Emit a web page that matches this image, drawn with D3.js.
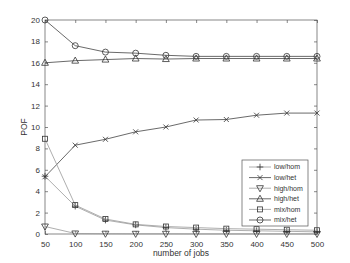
<!DOCTYPE html>
<meta charset="utf-8">
<style>
body { margin: 0; background: #fff; }
.tick text { font: 8px "Liberation Sans", Arial, sans-serif; fill: #333; }
.lbl { font: 8.5px "Liberation Sans", Arial, sans-serif; fill: #333; }
.leg text { font: 7px "Liberation Sans", Arial, sans-serif; fill: #333; }
</style>
<svg class="canvas"></svg>
<script src="https://cdn.jsdelivr.net/npm/d3@7"></script>
<script>

var jobs = [50, 100, 150, 200, 250, 300, 350, 400, 450, 500];
var lowHom  = [5.4, 2.6, 1.3, 0.85, 0.6, 0.45, 0.35, 0.3, 0.25, 0.2];
var lowHet  = [5.35, 8.3, 8.85, 9.55, 10.0, 10.65, 10.7, 11.1, 11.3, 11.3];
var highHom = [0.7, 0.05, 0.03, 0.02, 0.02, 0.01, 0.01, 0.01, 0.01, 0.01];
var highHet = [16.0, 16.2, 16.3, 16.4, 16.35, 16.4, 16.4, 16.4, 16.4, 16.4];
var mixHom  = [8.9, 2.7, 1.4, 0.9, 0.7, 0.6, 0.5, 0.45, 0.4, 0.35];
var mixHet  = [20.0, 17.6, 17.0, 16.9, 16.7, 16.6, 16.6, 16.6, 16.6, 16.6];
var xTicks = [50, 100, 150, 200, 250, 300, 350, 400, 450, 500];
var yTicks = [0, 2, 4, 6, 8, 10, 12, 14, 16, 18, 20];

var series = [
	{ name: "low/hom",  values: lowHom,  marker: "plus",   line: "#999" },
	{ name: "low/het",  values: lowHet,  marker: "cross",  line: "#444" },
	{ name: "high/hom", values: highHom, marker: "tdown",  line: "#999" },
	{ name: "high/het", values: highHet, marker: "tup",    line: "#444" },
	{ name: "mix/hom",  values: mixHom,  marker: "square", line: "#999" },
	{ name: "mix/het",  values: mixHet,  marker: "circle", line: "#444" }
];

var width = 350, height = 263;
var L = 45, R = 317, T = 20, B = 234;

var svg = d3.select(".canvas").attr("width", width).attr("height", height);

var x = d3.scaleLinear().domain([50, 500]).range([L, R]);
var y = d3.scaleLinear().domain([0, 20]).range([B, T]);

svg.append("rect").attr("x", L).attr("y", T).attr("width", R - L).attr("height", B - T)
	.attr("fill", "none").attr("stroke", "#555").attr("stroke-width", 0.7);

function styleAxis(g) {
	g.select(".domain").remove();
	g.selectAll(".tick line").attr("stroke", "#555").attr("stroke-width", 0.7);
}

svg.append("g").attr("transform", "translate(0," + B + ")")
	.call(d3.axisBottom(x).tickValues(xTicks).tickSize(-3).tickPadding(7).tickFormat(d3.format("d")))
	.call(styleAxis);
svg.append("g").attr("transform", "translate(0," + T + ")")
	.call(d3.axisTop(x).tickValues(xTicks).tickSize(-3).tickFormat(""))
	.call(styleAxis);
svg.append("g").attr("transform", "translate(" + L + ",0)")
	.call(d3.axisLeft(y).tickValues(yTicks).tickSize(-3).tickPadding(5).tickFormat(d3.format("d")))
	.call(styleAxis);
svg.append("g").attr("transform", "translate(" + R + ",0)")
	.call(d3.axisRight(y).tickValues(yTicks).tickSize(-3).tickFormat(""))
	.call(styleAxis);

svg.append("text").attr("class", "lbl").attr("x", (L + R) / 2).attr("y", 256)
	.attr("text-anchor", "middle").text("number of jobs");
svg.append("text").attr("class", "lbl").attr("transform", "translate(27," + (T + B) / 2 + ") rotate(-90)")
	.attr("text-anchor", "middle").text("POF");

function drawMarker(g, type) {
	var st = { fill: "none", stroke: "#333", "stroke-width": 0.8 };
	var m;
	if (type === "circle") m = g.append("circle").attr("r", 3);
	else if (type === "square") m = g.append("rect").attr("x", -2.5).attr("y", -2.5).attr("width", 5).attr("height", 5);
	else if (type === "tup") m = g.append("path").attr("d", "M0,-3.6L3.4,2.5L-3.4,2.5Z");
	else if (type === "tdown") m = g.append("path").attr("d", "M0,3.6L3.4,-2.5L-3.4,-2.5Z");
	else if (type === "plus") m = g.append("path").attr("d", "M-3.3,0H3.3M0,-3.3V3.3");
	else m = g.append("path").attr("d", "M-2.5,-2.5L2.5,2.5M-2.5,2.5L2.5,-2.5");
	for (var k in st) m.attr(k, st[k]);
}

var line = d3.line().x(function(d, i) { return x(jobs[i]); }).y(function(d) { return y(d); });

series.forEach(function(s) {
	svg.append("path").attr("d", line(s.values)).attr("fill", "none")
		.attr("stroke", s.line).attr("stroke-width", 0.8);
	s.values.forEach(function(v, i) {
		var g = svg.append("g").attr("transform", "translate(" + x(jobs[i]) + "," + y(v) + ")");
		drawMarker(g, s.marker);
	});
});

// legend
var leg = svg.append("g").attr("class", "leg").attr("transform", "translate(242,160)");
leg.append("rect").attr("width", 66).attr("height", 66).attr("fill", "#fff")
	.attr("stroke", "#555").attr("stroke-width", 0.7);
series.forEach(function(s, i) {
	var yy = 7 + i * 10.6;
	leg.append("line").attr("x1", 7).attr("x2", 29).attr("y1", yy).attr("y2", yy)
		.attr("stroke", s.line).attr("stroke-width", 0.8);
	drawMarker(leg.append("g").attr("transform", "translate(18," + yy + ")"), s.marker);
	leg.append("text").attr("x", 32).attr("y", yy).attr("dy", "0.35em").text(s.name);
});

</script>
